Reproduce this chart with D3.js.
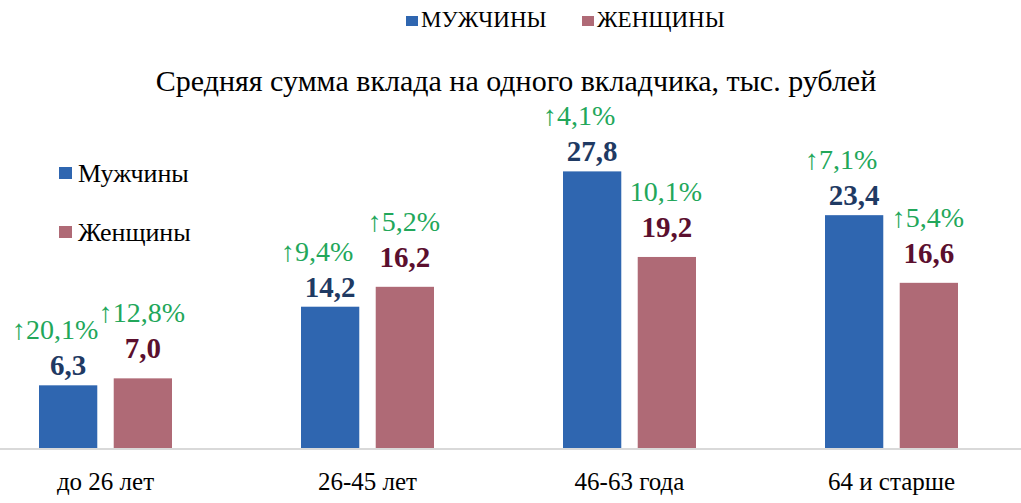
<!DOCTYPE html>
<html>
<head>
<meta charset="utf-8">
<script src="https://cdn.jsdelivr.net/npm/d3@7"></script>
<style>
	body { margin: 0; background: #fff; }
	#chart text { font-family: "Liberation Serif", "Times New Roman", serif; }
</style>
</head>
<body>
<svg id="chart" width="1021" height="503"></svg>
<script>
(function() {

	// данные
	var categories = ['до 26 лет', '26-45 лет', '46-63 года', '64 и старше'];
	var seriesNames = ['Мужчины', 'Женщины'];
	var topLegendNames = ['МУЖЧИНЫ', 'ЖЕНЩИНЫ'];
	var menValues = [6.3, 14.2, 27.8, 23.4];
	var womenValues = [7.0, 16.2, 19.2, 16.6];
	var menGrowth = ['↑20,1%', '↑9,4%', '↑4,1%', '↑7,1%'];
	var womenGrowth = ['↑12,8%', '↑5,2%', '10,1%', '↑5,4%'];

	var colors = ['#2F66B0', '#AF6A76'];
	var labelColors = ['#1F3A63', '#5B0F2E'];
	var green = '#22A75A';
	var serif = 'Liberation Serif';

	var svg = d3.select('#chart')
		.attr('font-family', serif);

	var baseline = 448;

	var x0 = d3.scaleBand()
		.domain(categories)
		.range([-25.5, 1022.5])
		.paddingInner(0)
		.paddingOuter(0);

	var x1 = d3.scaleBand()
		.domain(seriesNames)
		.range([x0.bandwidth() / 2 - 66.5, x0.bandwidth() / 2 + 66.5])
		.paddingInner(0.22)
		.paddingOuter(0);

	var y = d3.scaleLinear()
		.domain([0, 30])
		.range([baseline, baseline - 298.5]);

	// линия оси
	svg.append('line')
		.attr('x1', 0)
		.attr('x2', 1021)
		.attr('y1', baseline + 1)
		.attr('y2', baseline + 1)
		.attr('stroke', '#D9D9D9')
		.attr('stroke-width', 2);

	var rows = categories.map(function(c, i) {
		return [
			{ cat: c, s: 0, name: seriesNames[0], v: menValues[i], g: menGrowth[i] },
			{ cat: c, s: 1, name: seriesNames[1], v: womenValues[i], g: womenGrowth[i] }
		];
	});

	var groups = svg.append('g')
		.attr('class', 'Groups')
		.selectAll('g')
		.data(rows)
		.enter()
		.append('g')
		.attr('transform', function(d) { return 'translate(' + x0(d[0].cat) + ',0)'; });

	groups.selectAll('rect')
		.data(function(d) { return d; })
		.enter()
		.append('rect')
		.attr('x', function(d) { return x1(d.name); })
		.attr('y', function(d) { return y(d.v); })
		.attr('width', x1.bandwidth())
		.attr('height', function(d) { return y(0) - y(d.v); })
		.attr('fill', function(d) { return colors[d.s]; });

	var valueOffset = [-10, -20];
	var growthDx = [-13, -1];

	groups.selectAll('text.val')
		.data(function(d) { return d; })
		.enter()
		.append('text')
		.attr('class', 'val')
		.attr('x', function(d) { return x1(d.name) + x1.bandwidth() / 2; })
		.attr('y', function(d) { return y(d.v) + valueOffset[d.s]; })
		.attr('text-anchor', 'middle')
		.attr('font-family', serif)
		.attr('font-size', '29px')
		.attr('font-weight', 'bold')
		.attr('fill', function(d) { return labelColors[d.s]; })
		.text(function(d) { return d3.format('.1f')(d.v).replace('.', ','); });

	groups.selectAll('text.gr')
		.data(function(d) { return d; })
		.enter()
		.append('text')
		.attr('class', 'gr')
		.attr('x', function(d) { return x1(d.name) + x1.bandwidth() / 2 + growthDx[d.s]; })
		.attr('y', function(d) { return y(d.v) + valueOffset[d.s] - 36; })
		.attr('text-anchor', 'middle')
		.attr('font-family', serif)
		.attr('font-size', '28px')
		.attr('fill', green)
		.text(function(d) { return d.g; });

	// подписи категорий
	svg.append('g')
		.selectAll('text')
		.data(categories)
		.enter()
		.append('text')
		.attr('x', function(d) { return x0(d) + x0.bandwidth() / 2; })
		.attr('y', 490)
		.attr('text-anchor', 'middle')
		.attr('font-family', serif)
		.attr('font-size', '25px')
		.attr('fill', '#000')
		.text(function(d) { return d; });

	// заголовок
	svg.append('text')
		.attr('x', 516)
		.attr('y', 91)
		.attr('text-anchor', 'middle')
		.attr('font-family', serif)
		.attr('font-size', '30px')
		.attr('fill', '#000')
		.text('Средняя сумма вклада на одного вкладчика, тыс. рублей');

	// верхняя легенда
	var topLegend = svg.append('g').selectAll('g')
		.data(topLegendNames)
		.enter()
		.append('g')
		.attr('transform', function(d, i) { return 'translate(' + [406, 582][i] + ',0)'; });

	topLegend.append('rect')
		.attr('x', 0).attr('y', 16)
		.attr('width', 12).attr('height', 10)
		.attr('fill', function(d, i) { return colors[i]; });

	topLegend.append('text')
		.attr('x', 15).attr('y', 27)
		.attr('font-family', serif)
		.attr('font-size', '23px')
		.attr('fill', '#000')
		.text(function(d) { return d; });

	// левая легенда
	var leftLegend = svg.append('g').selectAll('g')
		.data(seriesNames)
		.enter()
		.append('g')
		.attr('transform', function(d, i) { return 'translate(59,' + (167 + i * 59) + ')'; });

	leftLegend.append('rect')
		.attr('x', 0).attr('y', 0)
		.attr('width', 13).attr('height', 12)
		.attr('fill', function(d, i) { return colors[i]; });

	leftLegend.append('text')
		.attr('x', 19).attr('y', 15)
		.attr('font-family', serif)
		.attr('font-size', '26px')
		.attr('fill', '#000')
		.text(function(d) { return d; });

})();
</script>
</body>
</html>
